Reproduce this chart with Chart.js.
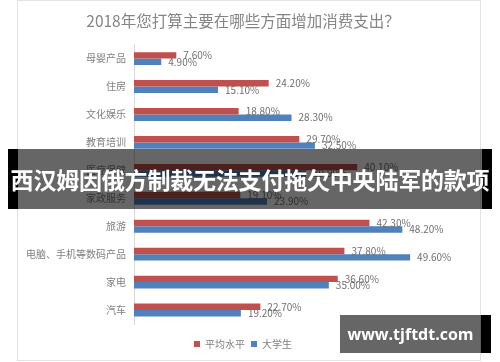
<!DOCTYPE html>
<html>
<head>
<meta charset="utf-8">
<script src="https://cdn.jsdelivr.net/npm/chart.js@4"></script>
<style>
html,body{margin:0;padding:0;background:#fff;}
#wrap{position:relative;width:500px;height:362px;overflow:hidden;}
#c{position:absolute;left:0;top:0;}
.band{position:absolute;}
#banner{left:18px;top:149px;width:464px;height:60px;background:rgba(0,0,0,0.6);}
#bl{left:8px;top:149px;width:10px;height:60px;background:#000;}
#br{left:482px;top:149px;width:10px;height:60px;background:#000;}
#btxt{position:absolute;left:0;top:149px;width:500px;height:60px;line-height:60px;text-align:center;color:#fff;font-family:"Noto Sans CJK SC";font-weight:700;font-size:23px;white-space:nowrap;letter-spacing:-0.2px;}
#wm{left:340px;top:315px;width:141px;height:38px;background:rgba(0,0,0,0.6);}
#wmb{left:481px;top:315px;width:10px;height:38px;background:#000;}
#wmtxt{position:absolute;left:340px;top:315px;width:141px;height:38px;line-height:38px;text-align:center;color:#fff;font-family:"Open Sans","DejaVu Sans";font-weight:700;font-size:16px;white-space:nowrap;}
</style>
</head>
<body>
<div id="wrap">
<canvas id="c" width="500" height="362"></canvas>
<div id="banner" class="band"></div>
<div id="bl" class="band"></div>
<div id="br" class="band"></div>
<div id="btxt">西汉姆因俄方制裁无法支付拖欠中央陆军的款项</div>
<div id="wm" class="band"></div>
<div id="wmb" class="band"></div>
<div id="wmtxt">www.tjftdt.com</div>
</div>
<script>
const categories = ["母婴产品","住房","文化娱乐","教育培训","医疗保健","家政服务","旅游","电脑、手机等数码产品","家电","汽车"];
const averageLevel = [7.6,24.2,18.8,29.7,40.1,19.1,42.3,37.8,36.6,22.7];
const collegeStudents = [4.9,15.1,28.3,32.5,30.9,23.9,48.2,49.6,35.0,19.2];
const seriesNames = ["平均水平","大学生"];
const titleText = "2018年您打算主要在哪些方面增加消费支出？";

const CJK = '"Noto Sans CJK SC", sans-serif';

const framePlugin = {
  id:'frame',
  beforeDraw(chart){
    const ctx = chart.ctx;
    ctx.save();
    ctx.fillStyle = '#fff';
    ctx.fillRect(0,0,chart.width,chart.height);
    ctx.strokeStyle = '#e3e3e3';
    ctx.lineWidth = 1;
    ctx.strokeRect(17.5,0.5,463,360);
    ctx.restore();
  }
};

const labelPlugin = {
  id:'valueLabels',
  afterDatasetsDraw(chart){
    const ctx = chart.ctx;
    ctx.save();
    ctx.font = '10px ' + CJK;
    ctx.fillStyle = '#6f6f6f';
    ctx.textAlign = 'left';
    ctx.textBaseline = 'middle';
    chart.data.datasets.forEach((ds, di) => {
      const meta = chart.getDatasetMeta(di);
      meta.data.forEach((bar, i) => {
        const v = ds.data[i];
        ctx.fillText(v.toFixed(2) + '%', bar.x + 7, bar.y);
      });
    });
    ctx.restore();
  }
};

new Chart(document.getElementById('c'), {
  type: 'bar',
  data: {
    labels: categories,
    datasets: [
      {label: seriesNames[0], data: averageLevel, backgroundColor: '#C0504D', borderWidth: 0},
      {label: seriesNames[1], data: collegeStudents, backgroundColor: '#4F81BD', borderWidth: 0}
    ]
  },
  options: {
    indexAxis: 'y',
    responsive: false,
    animation: false,
    devicePixelRatio: 1,
    layout: {padding: {left: 18, right: 32, top: 0, bottom: 3}},
    datasets: {bar: {categoryPercentage: 0.46, barPercentage: 1.0}},
    scales: {
      x: {
        display: true, min: 0, max: 60,
        grid: {display: false, drawTicks: false}, border: {display: false},
        ticks: {display: false},
        afterFit(scale){ scale.height = 9; }
      },
      y: {
        grid: {display: false, drawTicks: false},
        border: {display: true, color: '#d9d9d9'},
        ticks: {color: '#7f7f7f', font: {size: 10, family: CJK}, padding: 8, autoSkip: false},
        afterFit(scale){ scale.width = 116; }
      }
    },
    plugins: {
      title: {
        display: true, text: titleText, color: '#858585',
        font: {size: 15.5, weight: 'normal', family: CJK},
        padding: {top: 12, bottom: 14}
      },
      legend: {
        position: 'bottom',
        labels: {boxWidth: 6, boxHeight: 6, padding: 6, color: '#7f7f7f', font: {size: 10, family: CJK}}
      },
      tooltip: {enabled: false}
    }
  },
  plugins: [framePlugin, labelPlugin]
});
</script>
</body>
</html>
